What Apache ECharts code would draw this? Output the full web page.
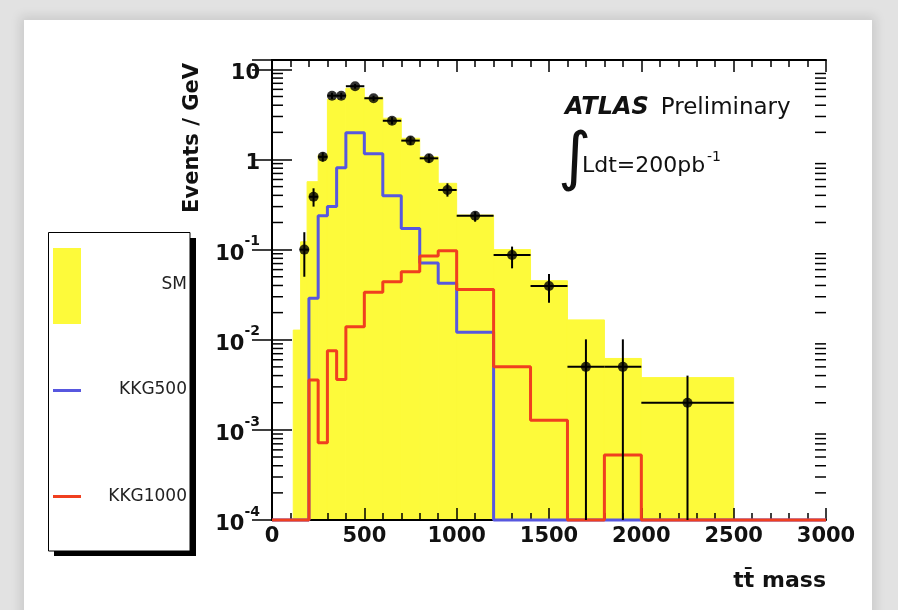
<!DOCTYPE html>
<html>
<head>
<meta charset="utf-8">
<title>ttbar mass</title>
<script src="https://cdn.jsdelivr.net/npm/echarts@6/dist/echarts.min.js"></script>
<style>
  html, body { margin: 0; padding: 0; width: 898px; height: 610px; overflow: hidden; background: #e2e2e2; }
  #panel { position: absolute; left: 24px; top: 20px; width: 848px; height: 620px; background: #fff;
           box-shadow: 0 0 10px 4px rgba(0,0,0,0.10); }
  #chart { position: absolute; left: 0; top: 0; width: 898px; height: 610px; }
</style>
</head>
<body>
<div id="panel"></div>
<div id="chart"></div>
<script>
// Axis ranges
const xMin = 0, xMax = 3000, xStep = 500;
const yMin = 1e-4, yMax = 12.7;
const minorMultipliers = [2, 3, 4, 5, 6, 7, 8, 9];
const decadeExponents = [-4, -3, -2, -1, 0, 1];

// SM expectation (filled histogram, variable bins), Events / GeV
const smEdges  = [115, 155, 190, 250, 300, 400, 500, 600, 700, 800, 900, 1000, 1200, 1400, 1600, 1800, 2000, 2500];
const smValues = [0.0128, 0.122, 0.567, 1.12, 4.66, 6.17, 4.9, 2.87, 1.72, 1.07, 0.544, 0.242, 0.1, 0.0452, 0.0166, 0.0062, 0.0038];

// KK gluon, 500 GeV
const kkg500Edges  = [0, 200, 250, 300, 350, 400, 500, 600, 700, 800, 900, 1000, 1200, 3000];
const kkg500Values = [0, 0.0288, 0.238, 0.30, 0.81, 1.98, 1.16, 0.396, 0.172, 0.071, 0.0423, 0.0121, 0];

// KK gluon, 1000 GeV
const kkg1000Edges  = [0, 200, 250, 300, 350, 400, 500, 600, 700, 800, 900, 1000, 1200, 1400, 1600, 1800, 2000, 3000];
const kkg1000Values = [0, 0.00357, 0.00072, 0.00755, 0.00363, 0.0139, 0.0336, 0.044, 0.0569, 0.0849, 0.0973, 0.0362, 0.00501, 0.00128, 0, 0.000525, 0];

// Pseudo-data points with errors
const dataX     = [175, 225, 275, 325, 375, 450, 550, 650, 750, 850, 950, 1100, 1300, 1500, 1700, 1900, 2250];
const dataXLow  = [150, 200, 250, 300, 350, 400, 500, 600, 700, 800, 900, 1000, 1200, 1400, 1600, 1800, 2000];
const dataXHigh = [200, 250, 300, 350, 400, 500, 600, 700, 800, 900, 1000, 1200, 1400, 1600, 1800, 2000, 2500];
const dataY     = [0.1, 0.386, 1.07, 5.1, 5.1, 6.5, 4.78, 2.69, 1.62, 1.03, 0.459, 0.238, 0.087, 0.0394, 0.005, 0.005, 0.002];
const dataYLow  = [0.05, 0.30, 0.95, 4.7, 4.7, 6.1, 4.45, 2.45, 1.45, 0.92, 0.387, 0.204, 0.062, 0.0257, 0, 0, 0];
const dataYHigh = [0.156, 0.479, 1.2, 5.5, 5.5, 6.9, 5.1, 2.95, 1.8, 1.15, 0.544, 0.264, 0.108, 0.0537, 0.0101, 0.0101, 0.0040];

// Legend entries
const legendLabels = ['SM', 'KKG500', 'KKG1000'];

const smColor = '#fdfa3a';
const blueColor = '#5757df';
const redColor = '#f03f1f';
const FONT = 'DejaVu Sans';

// Histogram outline: zero bins sit on the bottom edge of the frame
function histPath(edges, values) {
  const pts = [];
  values.forEach((v, i) => {
    const y = Math.max(v, yMin);
    pts.push([edges[i], y], [edges[i + 1], y]);
  });
  return pts;
}

const yMinorTicks = [];
decadeExponents.forEach(e => {
  minorMultipliers.forEach(m => {
    const v = m * Math.pow(10, e);
    if (v < yMax) yMinorTicks.push([xMin, v]);
  });
});

function decadeLabel(v) {
  const l = Math.log10(v);
  const e = Math.round(l);
  if (Math.abs(l - e) > 1e-6) return '';
  if (e === 0) return '{b|1}';
  if (e === 1) return '{b|10}';
  return '{b|10}{s|' + e + '}';
}

const axisLine = { show: true, lineStyle: { color: '#000', width: 2 } };

const xAxisBase = {
  type: 'value', min: xMin, max: xMax, interval: xStep, z: 3,
  axisLine: axisLine,
  axisTick: { show: true, inside: true, length: 12, lineStyle: { color: '#000', width: 1.5 } },
  minorTick: { show: true, splitNumber: 5, length: 7, lineStyle: { color: '#000', width: 1.5 } },
  splitLine: { show: false }
};
const yAxisBase = {
  type: 'log', logBase: 10, min: yMin, max: yMax, z: 3,
  axisLine: axisLine,
  axisTick: { show: true, inside: true, length: 20, lineStyle: { color: '#000', width: 1.5 } },
  minorTick: { show: false },
  splitLine: { show: false }
};

const chart = echarts.init(document.getElementById('chart'), null, { renderer: 'canvas' });
chart.setOption({
  animation: false,
  backgroundColor: 'transparent',
  textStyle: { fontFamily: FONT },
  grid: { left: 272, right: 72, top: 60, bottom: 90, containLabel: false },
  xAxis: [
    Object.assign({}, xAxisBase, {
      position: 'bottom',
      axisLabel: { show: true, color: '#111', fontFamily: FONT, fontWeight: 'bold', fontSize: 21, margin: 6,
                   showMinLabel: true, showMaxLabel: true, formatter: v => String(v) }
    }),
    Object.assign({}, xAxisBase, { position: 'top', axisLabel: { show: false } })
  ],
  yAxis: [
    Object.assign({}, yAxisBase, {
      position: 'left',
      axisLabel: {
        show: true, margin: 12, formatter: decadeLabel,
        rich: {
          b: { fontFamily: FONT, fontWeight: 'bold', fontSize: 21, color: '#111', lineHeight: 30, verticalAlign: 'bottom', padding: [6, 0, 0, 0] },
          s: { fontFamily: FONT, fontWeight: 'bold', fontSize: 14, color: '#111', lineHeight: 16, verticalAlign: 'top' }
        }
      }
    }),
    Object.assign({}, yAxisBase, { position: 'right', axisLabel: { show: false } })
  ],
  series: [
    {
      name: 'SM', type: 'custom', z: 1, silent: true,
      xAxisIndex: 0, yAxisIndex: 0,
      data: smValues.map((v, i) => [smEdges[i], smEdges[i + 1], v]),
      encode: { x: [0, 1], y: 2 },
      renderItem: (params, api) => {
        const a = api.coord([api.value(0), api.value(2)]);
        const b = api.coord([api.value(1), yMin]);
        return { type: 'rect', shape: { x: a[0], y: a[1], width: b[0] - a[0], height: b[1] - a[1] },
                 style: { fill: smColor, stroke: smColor, lineWidth: 1 } };
      }
    },
    {
      name: 'KKG500', type: 'line', z: 4, silent: true, clip: false,
      data: histPath(kkg500Edges, kkg500Values),
      symbol: 'none', lineStyle: { color: blueColor, width: 3 }
    },
    {
      name: 'KKG1000', type: 'line', z: 5, silent: true, clip: false,
      data: histPath(kkg1000Edges, kkg1000Values),
      symbol: 'none', lineStyle: { color: redColor, width: 3 }
    },
    {
      name: 'minor y ticks', type: 'custom', z: 6, silent: true,
      data: yMinorTicks, encode: { x: 0, y: 1 },
      renderItem: (params, api) => {
        const v = api.value(1);
        const l = api.coord([xMin, v]);
        const r = api.coord([xMax, v]);
        return { type: 'group', children: [
          { type: 'line', shape: { x1: l[0], y1: l[1], x2: l[0] + 11, y2: l[1] }, style: { stroke: '#000', lineWidth: 1.5 } },
          { type: 'line', shape: { x1: r[0], y1: r[1], x2: r[0] - 11, y2: r[1] }, style: { stroke: '#000', lineWidth: 1.5 } }
        ] };
      }
    },
    {
      name: 'data errors', type: 'custom', z: 8, silent: true,
      data: dataX.map((x, i) => [x, dataY[i], dataXLow[i], dataXHigh[i], dataYLow[i], dataYHigh[i]]),
      encode: { x: 0, y: 1 },
      renderItem: (params, api) => {
        const x = api.value(0), y = api.value(1);
        const lo = Math.max(api.value(4), yMin), hi = api.value(5);
        const pl = api.coord([x, lo]), ph = api.coord([x, hi]);
        const xl = api.coord([api.value(2), y]), xh = api.coord([api.value(3), y]);
        const st = { stroke: '#000', lineWidth: 2 };
        return { type: 'group', children: [
          { type: 'line', shape: { x1: pl[0], y1: pl[1], x2: ph[0], y2: ph[1] }, style: st },
          { type: 'line', shape: { x1: xl[0], y1: xl[1], x2: xh[0], y2: xh[1] }, style: st }
        ] };
      }
    },
    {
      name: 'data', type: 'scatter', z: 9, silent: true,
      data: dataX.map((x, i) => [x, dataY[i]]),
      symbol: 'circle', symbolSize: 10, itemStyle: { color: '#000' }
    }
  ],
  graphic: [
    // axis titles
    { type: 'text', x: 193, y: 138, rotation: Math.PI / 2, z: 10,
      style: { text: 'Events / GeV', fontFamily: FONT, fontWeight: 'bold', fontSize: 21, fill: '#111',
               align: 'center', verticalAlign: 'middle' } },
    { type: 'text', x: 826, y: 581, z: 10,
      style: { text: 'tt\u0304 mass', fontFamily: FONT, fontWeight: 'bold', fontSize: 22, fill: '#111',
               align: 'right', verticalAlign: 'middle' } },
    // experiment label
    { type: 'text', x: 565, y: 108, z: 10,
      style: { text: '{a|ATLAS}{p|Preliminary}', align: 'left', verticalAlign: 'middle',
               rich: {
                 a: { fontFamily: FONT, fontWeight: 'bold', fontStyle: 'italic', fontSize: 24, fill: '#111' },
                 p: { fontFamily: FONT, fontSize: 23, fill: '#111', padding: [0, 0, 0, 12] }
               } } },
    { type: 'text', x: 558, y: 161, z: 10,
      style: { text: '\u222B', fontFamily: FONT, fontSize: 64, fill: '#111', align: 'left', verticalAlign: 'middle' } },
    { type: 'text', x: 582, y: 166, z: 10,
      style: { text: 'Ldt=200pb', fontFamily: FONT, fontSize: 22, fill: '#111', align: 'left', verticalAlign: 'middle' } },
    { type: 'text', x: 707, y: 157, z: 10,
      style: { text: '-1', fontFamily: FONT, fontSize: 14, fill: '#111', align: 'left', verticalAlign: 'middle' } },
    // legend box
    { type: 'rect', z: 10, shape: { x: 54, y: 238, width: 142, height: 318 }, style: { fill: '#000' } },
    { type: 'rect', z: 11, shape: { x: 48.5, y: 232.5, width: 141.5, height: 318.5 }, style: { fill: '#fff', stroke: '#000', lineWidth: 1 } },
    { type: 'rect', z: 12, shape: { x: 53, y: 248, width: 28, height: 76 }, style: { fill: smColor } },
    { type: 'line', z: 12, shape: { x1: 53, y1: 390.5, x2: 81, y2: 390.5 }, style: { stroke: blueColor, lineWidth: 3 } },
    { type: 'line', z: 12, shape: { x1: 53, y1: 496.5, x2: 81, y2: 496.5 }, style: { stroke: redColor, lineWidth: 3 } },
    { type: 'text', x: 187, y: 285, z: 12,
      style: { text: legendLabels[0], fontFamily: FONT, fontSize: 17, fill: '#222', align: 'right', verticalAlign: 'middle' } },
    { type: 'text', x: 187, y: 390, z: 12,
      style: { text: legendLabels[1], fontFamily: FONT, fontSize: 17, fill: '#222', align: 'right', verticalAlign: 'middle' } },
    { type: 'text', x: 187, y: 497, z: 12,
      style: { text: legendLabels[2], fontFamily: FONT, fontSize: 17, fill: '#222', align: 'right', verticalAlign: 'middle' } }
  ]
});
</script>
</body>
</html>
